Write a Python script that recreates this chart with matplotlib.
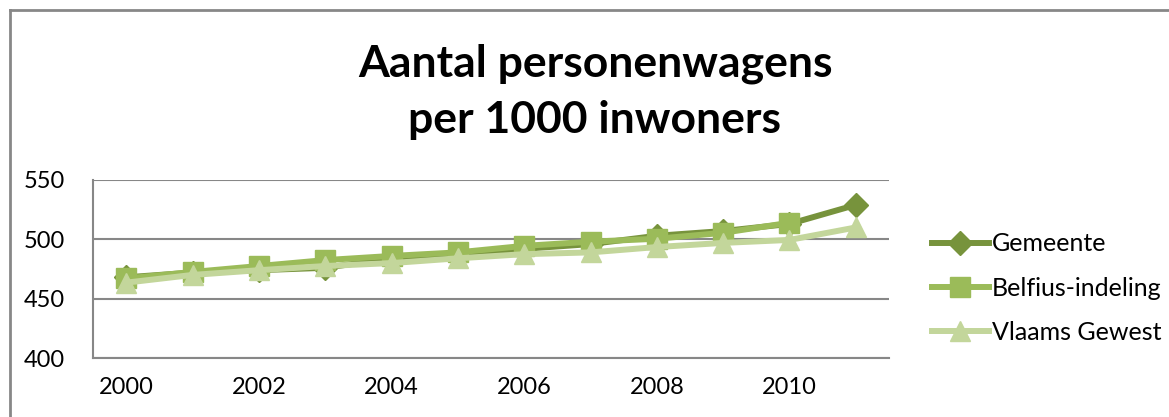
import numpy as np
import matplotlib.pyplot as plt
from matplotlib.lines import Line2D

years = list(range(2000, 2012))
gemeente = [468, 472, 474, 476, 484, 487, 492, 496, 503, 507, 513, 529]
belfius = [467, 472.5, 477.5, 482.5, 486, 489, 494.5, 498, 500.5, 505.5, 514]
vlaams = [463.5, 470, 474, 477.5, 480, 484, 487.5, 489, 493.5, 497, 499.5, 510]

yticks = [400, 450, 500, 550]
xlabels = ['2000', '2002', '2004', '2006', '2008', '2010']

plt.rcParams['font.family'] = ['Lato', 'DejaVu Sans']

fig = plt.figure(figsize=(11.69, 4.17), dpi=100)
ax = fig.add_axes([93/1169, 1-358/417, (889-93)/1169, (358-180)/417])

x = np.arange(len(years))
ax.plot(x, gemeente, color='#77933C', lw=4.3, marker='D', ms=12, label='Gemeente', zorder=3)
ax.plot(x[:len(belfius)], belfius, color='#9BBB59', lw=4.3, marker='s', ms=14, label='Belfius-indeling', zorder=4)
ax.plot(x, vlaams, color='#C3D69B', lw=4.3, marker='^', ms=15, label='Vlaams Gewest', zorder=5)

ax.set_xlim(-0.5, len(years) - 0.5)
ax.set_ylim(400, 550)
ax.set_yticks(yticks)
ax.set_xticks(x[::2])
ax.set_xticklabels(xlabels)
ax.tick_params(length=0, labelsize=17, pad=14)
ax.tick_params(axis='y', pad=20)
ax.grid(axis='y', color='#878787', lw=1.5)
ax.set_axisbelow(True)
for s in ['top', 'right']:
    ax.spines[s].set_visible(False)
for s in ['left', 'bottom']:
    ax.spines[s].set_color('#878787')
    ax.spines[s].set_linewidth(1.5)

leg = ax.legend(loc='center left', frameon=False, fontsize=18, handlelength=2.3,
                labelspacing=0.85, handletextpad=0.1, borderaxespad=0)
leg.set_bbox_to_anchor((1.041, 0.393), transform=ax.transAxes)

fig.text(595/1169, 1-92/417, 'Aantal personenwagens\nper 1000 inwoners', ha='center', va='center',
         fontsize=32, fontweight='bold', linespacing=1.5)

# chart border
fig.add_artist(Line2D([10/1169, 1.0], [1-10/417, 1-10/417], color='#878787', lw=2))
fig.add_artist(Line2D([10/1169, 10/1169], [0, 1-10/417], color='#878787', lw=2))

fig.savefig('out.png', dpi=100)
